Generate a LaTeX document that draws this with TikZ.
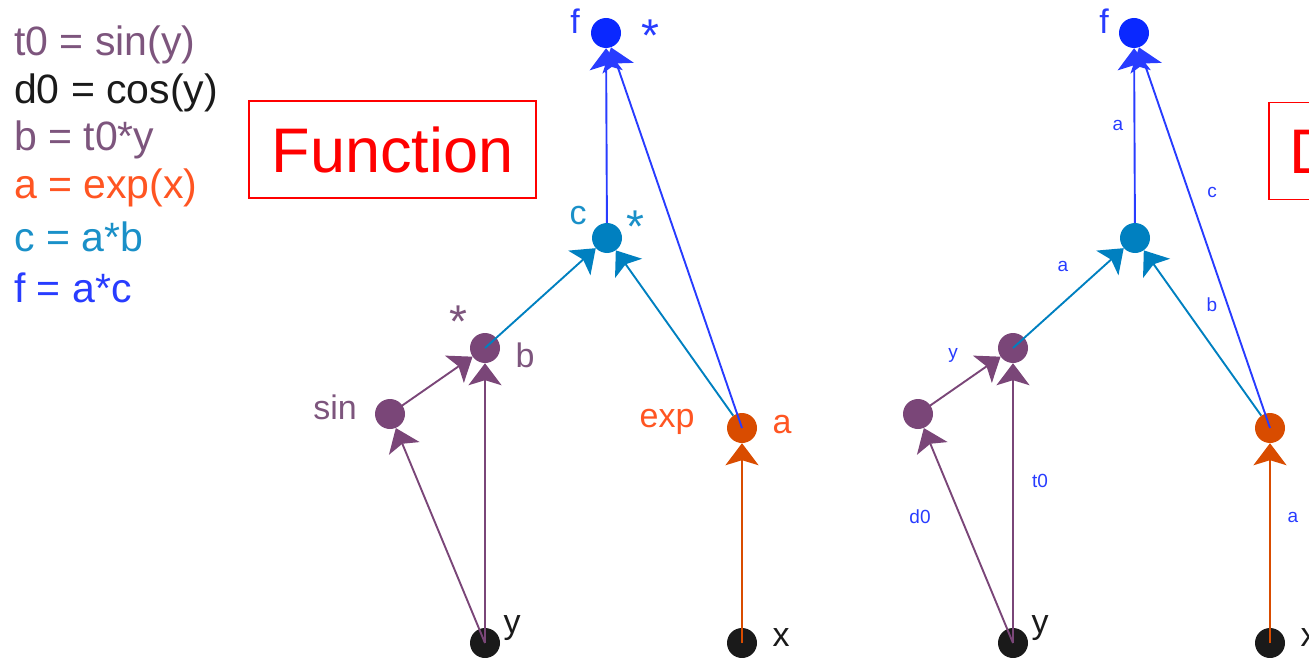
\documentclass[tikz,border=0pt]{standalone}
\usepackage{fontspec}
\setmainfont{Liberation Sans}
\usetikzlibrary{arrows.meta}
\definecolor{cpurp}{RGB}{122,70,120}
\definecolor{cpurptxt}{RGB}{125,85,125}
\definecolor{cblue}{RGB}{10,40,255}
\definecolor{cbluel}{RGB}{40,60,255}
\definecolor{cteal}{RGB}{0,128,192}
\definecolor{ctealtxt}{RGB}{26,144,200}
\definecolor{corange}{RGB}{217,76,0}
\definecolor{corangetxt}{RGB}{255,85,34}
\definecolor{cblack}{RGB}{26,26,26}
\definecolor{cred}{RGB}{255,0,0}
\begin{document}
\begin{tikzpicture}[x=1pt,y=-1pt,
  dot/.style={circle,inner sep=0pt,minimum size=30pt},
  conn/.style={line width=1.9pt,-{Stealth[length=22pt,width=33pt,inset=5pt]}},
  code/.style={anchor=west,inner sep=0pt,font=\fontsize{41}{48}\selectfont},
  lbl/.style={inner sep=0pt,font=\fontsize{34}{40}\selectfont},
  star/.style={inner sep=0pt,font=\fontsize{46}{50}\selectfont},
  elbl/.style={inner sep=0pt,text=cbluel,font=\fontsize{19}{22}\selectfont},
  titlebox/.style={draw=cred,line width=1.5pt,text=cred,minimum height=97pt,inner xsep=21pt,font=\fontsize{63}{70}\selectfont}]
\useasboundingbox (0,0) rectangle (1309,658);
\clip (0,0) rectangle (1309,658);
% code
\node[code,text=cpurptxt] (l1) at (14,45) {t0 = sin(y)};
\node[code,text=cblack] (l2) at (14,93) {d0 = cos(y)};
\node[code,text=cpurptxt] (l3) at (14,140) {b = t0*y};
\node[code,text=corangetxt] (l4) at (14,188) {a = exp(x)};
\node[code,text=ctealtxt] (l5) at (14,237) {c = a*b};
\node[code,text=cbluel] (l6) at (14,288) {f = a*c};
% boxes
\node[titlebox,minimum width=287pt] (fbox) at (392.5,149.5) {Function};
\node[titlebox,anchor=west] (dbox) at (1268,151) {Derivative};
% left graph nodes
\node[dot,fill=cblue] (f) at (606,33) {};
\node[dot,fill=cteal] (c) at (607,238) {};
\node[dot,fill=cpurp] (b) at (485,348) {};
\node[dot,fill=cpurp] (s) at (390,414) {};
\node[dot,fill=corange] (a) at (742,428) {};
\node[dot,fill=cblack] (y) at (485,643) {};
\node[dot,fill=cblack] (x) at (742,643) {};
% left graph edges
\draw[conn,cpurp] (y.center) -- (s);
\draw[conn,cpurp] (y.center) -- (b);
\draw[conn,cpurp] (s.center) -- (b);
\draw[conn,cteal] (b.center) -- (c);
\draw[conn,cteal] (a) -- (c);
\draw[conn,cbluel] (c) -- (f);
\draw[conn,cbluel] (a.center) -- (f);
\draw[conn,corange] (x.center) -- (a);
% left labels
\node[lbl,text=cbluel] (lf) at (575,21) {f};
\node[star,text=cbluel] (lfs) at (650,36) {*};
\node[lbl,text=ctealtxt] (lc) at (578,216) {c};
\node[star,text=ctealtxt] (lcs) at (635,227) {*};
\node[star,text=cpurptxt] (lbs) at (458,322) {*};
\node[lbl,text=cpurptxt] (lb) at (525,355) {b};
\node[lbl,text=cpurptxt] (ls) at (335,407) {sin};
\node[lbl,text=corangetxt] (le) at (667,422) {exp};
\node[lbl,text=corangetxt] (la) at (782,425) {a};
\node[lbl,text=cblack] (ly) at (512,628) {y};
\node[lbl,text=cblack] (lx) at (781,638) {x};
% right graph nodes
\node[dot,fill=cblue] (f2) at (1134,33) {};
\node[dot,fill=cteal] (c2) at (1135,238) {};
\node[dot,fill=cpurp] (b2) at (1013,348) {};
\node[dot,fill=cpurp] (s2) at (918,414) {};
\node[dot,fill=corange] (a2) at (1270,428) {};
\node[dot,fill=cblack] (y2) at (1013,643) {};
\node[dot,fill=cblack] (x2) at (1270,643) {};
% right graph edges
\draw[conn,cpurp] (y2.center) -- (s2);
\draw[conn,cpurp] (y2.center) -- (b2);
\draw[conn,cpurp] (s2.center) -- (b2);
\draw[conn,cteal] (b2.center) -- (c2);
\draw[conn,cteal] (a2) -- (c2);
\draw[conn,cbluel] (c2) -- (f2);
\draw[conn,cbluel] (a2.center) -- (f2);
\draw[conn,corange] (x2.center) -- (a2);
% right labels
\node[lbl,text=cbluel] (rf) at (1104,21) {f};
\node[lbl,text=cblack] (ry) at (1040,628) {y};
\node[lbl,text=cblack] (rx) at (1309,638) {x};
\node[elbl] (e1) at (1118,125) {a};
\node[elbl] (e2) at (1212,192) {c};
\node[elbl] (e3) at (1063,266) {a};
\node[elbl] (e4) at (1212,305) {b};
\node[elbl] (e5) at (953,355) {y};
\node[elbl] (e6) at (1040,481) {t0};
\node[elbl] (e7) at (920,517) {d0};
\node[elbl] (e8) at (1293,517) {a};
\end{tikzpicture}
\end{document}
